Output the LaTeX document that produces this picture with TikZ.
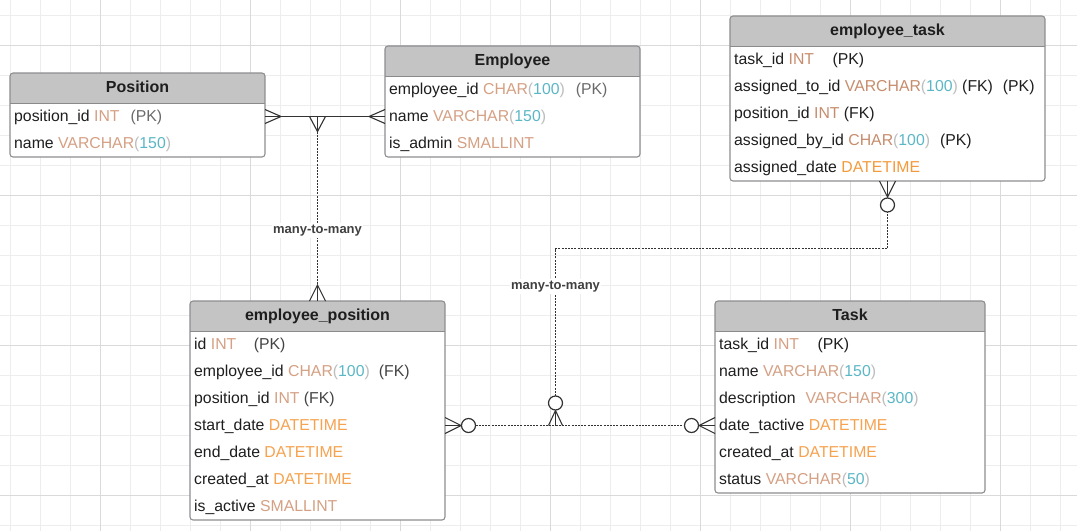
\documentclass[tikz,border=0pt]{standalone}
\usepackage{fontspec}
\setmainfont{Liberation Sans}
\usetikzlibrary{calc}

% palette
\definecolor{gridminor}{HTML}{EDEDED}
\definecolor{gridmajor}{HTML}{DADADA}
\definecolor{headgray}{HTML}{C4C4C4}
\definecolor{bordergray}{HTML}{8E8E92}
\definecolor{rulegray}{HTML}{8A8A8A}
\definecolor{inkdark}{HTML}{1E1E1E}
\definecolor{typetan}{HTML}{D5A083}
\definecolor{typetandark}{HTML}{C78C6C}
\definecolor{dateorange}{HTML}{F6A24E}
\definecolor{dateorangedark}{HTML}{F39A3A}
\definecolor{sizeteal}{HTML}{5BB7C6}
\definecolor{parengray}{HTML}{BDBDBD}
\definecolor{keygray}{HTML}{6A6A6A}
\definecolor{keydark}{HTML}{444444}
\definecolor{relink}{HTML}{333333}
\definecolor{labelink}{HTML}{404040}
\colorlet{typecur}{typetan}
\colorlet{datecur}{dateorange}

% column text helpers
\newcommand\ertype[1]{\textcolor{typecur}{#1}}
\newcommand\ersize[1]{\textcolor{parengray}{(}\textcolor{sizeteal}{#1}\textcolor{parengray}{)}}
\newcommand\erdate{\textcolor{datecur}{DATETIME}}
\newcommand\ergap[1]{\hspace*{#1pt}}

% table: name, left x, top y, width, number of rows, title
\newcommand\ertable[6]{%
  \pgfmathsetmacro\erh{30+27*#5}%
  \node[tablebody, minimum width=#4pt, minimum height=\erh pt, anchor=north west] (#1) at (#2,#3) {};
  \begin{scope}
    \clip[rounded corners=3pt] (#1.north west) rectangle (#1.south east);
    \fill[headfill] (#1.north west) rectangle ($(#1.north east)+(0,30)$);
  \end{scope}
  \draw[headrule] ($(#1.north west)+(0,30)$) -- ($(#1.north east)+(0,30)$);
  \draw[tableborder, rounded corners=3pt] (#1.north west) rectangle (#1.south east);
  \node[headtext] (#1-title) at ($(#1.north)+(0,15)$) {#6};
}
% row: table name, row index, content
\newcommand\errow[3]{%
  \node[fieldrow] (#1-r#2) at ($(#1.north west)+(0,{16.5+27*#2})$) {#3};
}

\begin{document}
\begin{tikzpicture}[x=1pt, y=-1pt,
  tablebody/.style={fill=white, inner sep=0pt, outer sep=0pt},
  headfill/.style={fill=headgray},
  headrule/.style={draw=rulegray, line width=0.9pt},
  tableborder/.style={draw=bordergray, line width=1.1pt},
  headtext/.style={font=\bfseries\fontsize{16}{19}\selectfont, text=inkdark, inner sep=0pt, text height=11pt, text depth=3pt},
  fieldrow/.style={anchor=west, font=\fontsize{15.8}{19}\selectfont, text=inkdark, inner xsep=4pt, inner ysep=0pt, text height=11pt, text depth=2pt},
  gridthin/.style={draw=gridminor, line width=0.9pt},
  gridthick/.style={draw=gridmajor, line width=1pt},
  relsolid/.style={draw=relink, line width=1.1pt},
  relstem/.style={draw=relink, line width=1.6pt},
  reldot/.style={draw=relink, line width=1.3pt, dash pattern=on 2pt off 1.2pt},
  relring/.style={draw=relink, line width=1.2pt, fill=white},
  rellabel/.style={font=\bfseries\fontsize{13}{15}\selectfont, text=labelink, fill=white, inner xsep=1pt, inner ysep=2pt}
]
\useasboundingbox (0,0) rectangle (1077,531);
\fill[white] (0,0) rectangle (1077,531);

% background grid
\foreach \gx in {10,40,...,1070} \draw[gridthin] (\gx,0) -- (\gx,531);
\foreach \gy in {15,45,...,525} \draw[gridthin] (0,\gy) -- (1077,\gy);
\foreach \gx in {100,250,...,1000} \draw[gridthick] (\gx,0) -- (\gx,531);
\foreach \gy in {45,195,345,495} \draw[gridthick] (0,\gy) -- (1077,\gy);

% ---- tables ----
\ertable{position}{10}{73}{255}{2}{Position}
\errow{position}{1}{position\_id \ertype{INT}\ergap{11}\textcolor{keygray}{(PK)}}
\errow{position}{2}{name \ertype{VARCHAR}\ersize{150}}

\ertable{employee}{385}{46}{255}{3}{Employee}
\errow{employee}{1}{employee\_id \ertype{CHAR}\ersize{100}\ergap{11}\textcolor{keygray}{(PK)}}
\errow{employee}{2}{name \ertype{VARCHAR}\ersize{150}}
\errow{employee}{3}{is\_admin \ertype{SMALLINT}}

\colorlet{typecur}{typetandark}
\colorlet{datecur}{dateorangedark}
\ertable{et}{730}{16}{315}{5}{employee\_task}
\errow{et}{1}{task\_id \ertype{INT}\ergap{18.5}(PK)}
\errow{et}{2}{assigned\_to\_id \ertype{VARCHAR}\ersize{100} (FK)\ergap{10}(PK)}
\errow{et}{3}{position\_id \ertype{INT} (FK)}
\errow{et}{4}{assigned\_by\_id \ertype{CHAR}\ersize{100}\ergap{10}(PK)}
\errow{et}{5}{assigned\_date \erdate}
\colorlet{typecur}{typetan}
\colorlet{datecur}{dateorange}

\ertable{ep}{190}{301}{255}{7}{employee\_position}
\errow{ep}{1}{id \ertype{INT}\ergap{17.5}\textcolor{keydark}{(PK)}}
\errow{ep}{2}{employee\_id \ertype{CHAR}\ersize{100}\ergap{9}\textcolor{keydark}{(FK)}}
\errow{ep}{3}{position\_id \ertype{INT} \textcolor{keydark}{(FK)}}
\errow{ep}{4}{start\_date \erdate}
\errow{ep}{5}{end\_date \erdate}
\errow{ep}{6}{created\_at \erdate}
\errow{ep}{7}{is\_active \ertype{SMALLINT}}

\ertable{task}{715}{301}{270}{6}{Task}
\errow{task}{1}{task\_id \ertype{INT}\ergap{18.5}(PK)}
\errow{task}{2}{name \ertype{VARCHAR}\ersize{150}}
\errow{task}{3}{description\ergap{10}\ertype{VARCHAR}\ersize{300}}
\errow{task}{4}{date\_tactive \erdate}
\errow{task}{5}{created\_at \erdate}
\errow{task}{6}{status \ertype{VARCHAR}\ersize{50}}

% ---- Position / Employee / employee_position ----
\coordinate (pe-a) at (position.east |- position-r1.west);
\coordinate (pe-b) at (employee.west |- employee-r2.west);
\draw[relsolid] (pe-a) -- (pe-b);
\draw[relsolid] ($(pe-a)+(0,-7)$) -- ($(pe-a)+(16,0)$) -- ($(pe-a)+(0,7)$);
\draw[relsolid] ($(pe-b)+(0,-7)$) -- ($(pe-b)+(-16,0)$) -- ($(pe-b)+(0,7)$);
\coordinate (j1) at (ep.north |- pe-a);
\draw[relsolid] ($(j1)+(-8,0)$) -- ($(j1)+(0,15)$) -- ($(j1)+(8,0)$);
\draw[relstem] (j1) -- ($(j1)+(0,15)$);
\draw[reldot] ($(j1)+(0,15)$) -- ($(ep.north)+(0,-16)$);
\draw[relsolid] ($(ep.north)+(-8,0)$) -- ($(ep.north)+(0,-16)$) -- ($(ep.north)+(8,0)$);
\draw[relstem] (ep.north) -- ($(ep.north)+(0,-16)$);
\node[rellabel] (lbl-pe) at ($(ep.north)+(0,-70.5)$) {many-to-many};

% ---- employee_position / Task / employee_task ----
\coordinate (b-a) at (ep.east |- ep-r4.west);
\coordinate (b-b) at (task.west |- task-r4.west);
\draw[relsolid] ($(b-a)+(0,-8)$) -- ($(b-a)+(16,0)$) -- ($(b-a)+(0,8)$);
\draw[relsolid] (b-a) -- ($(b-a)+(16,0)$);
\draw[relsolid] ($(b-b)+(0,-8)$) -- ($(b-b)+(-16,0)$) -- ($(b-b)+(0,8)$);
\draw[relsolid] (b-b) -- ($(b-b)+(-16,0)$);
\draw[reldot] ($(b-a)+(30.5,0)$) -- ($(b-b)+(-30.5,0)$);
\draw[relring] ($(b-a)+(23.5,0)$) circle[radius=7];
\draw[relring] ($(b-b)+(-23.5,0)$) circle[radius=7];

\coordinate (j2) at ($(b-a)+(110.5,0)$);
\coordinate (c1) at ($(j2)+(0,-177)$);
\coordinate (c2) at (et.south |- c1);
\draw[relsolid] ($(j2)+(-7,0)$) -- ($(j2)+(0,-15)$) -- ($(j2)+(7,0)$);
\draw[relstem] (j2) -- ($(j2)+(0,-15)$);
\draw[reldot] ($(j2)+(0,-29.5)$) -- (c1) -- (c2) -- ($(et.south)+(0,31)$);
\draw[relring] ($(j2)+(0,-22.5)$) circle[radius=7];
\draw[relsolid] ($(et.south)+(-8,0)$) -- ($(et.south)+(0,16)$) -- ($(et.south)+(8,0)$);
\draw[relstem] (et.south) -- ($(et.south)+(0,16)$);
\draw[relring] ($(et.south)+(0,24)$) circle[radius=7];
\node[rellabel] (lbl-task) at ($(j2)+(0,-139)$) {many-to-many};

\end{tikzpicture}
\end{document}
